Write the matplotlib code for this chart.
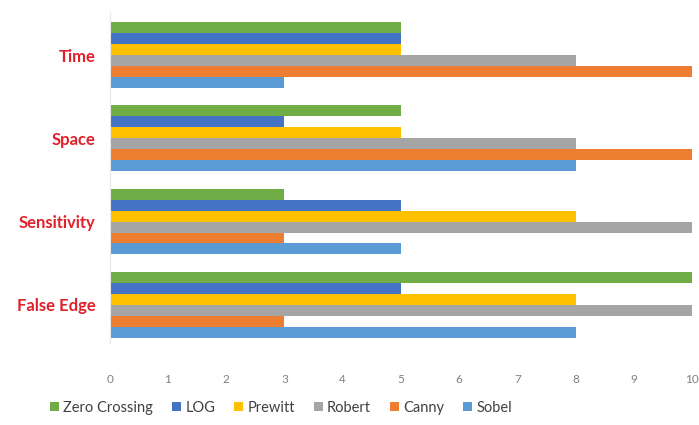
import numpy as np
import matplotlib
matplotlib.use("Agg")
import matplotlib.pyplot as plt

# categories bottom -> top
categories = ["False Edge", "Sensitivity", "Space", "Time"]

# series values per category (same order as categories)
sobel = [8, 5, 8, 3]
canny = [3, 3, 10, 10]
robert = [10, 10, 8, 8]
prewitt = [8, 8, 5, 5]
log = [5, 5, 3, 5]
zero_crossing = [10, 3, 5, 5]

series_names = ["Sobel", "Canny", "Robert", "Prewitt", "LOG", "Zero Crossing"]
series_vals = [sobel, canny, robert, prewitt, log, zero_crossing]
colors = ["#5B9BD5", "#ED7D31", "#A5A5A5", "#FFC000", "#4472C4", "#70AD47"]

plt.rcParams["font.family"] = ["Lato", "DejaVu Sans"]

fig = plt.figure(figsize=(6.99, 4.25), dpi=100)
ax = fig.add_axes([0.157, 0.193, 0.833, 0.779])

y = np.arange(len(categories))
bh = 0.132
handles = []
for i, (name, vals, c) in enumerate(zip(series_names, series_vals, colors)):
    off = (i - 2.5) * bh
    b = ax.barh(y + off, vals, height=bh, color=c, label=name)
    handles.append(b)

ax.set_xlim(0, 10)
ax.set_ylim(-0.46, 3.52)
ax.set_xticks(range(0, 11))
ax.set_yticks(y)
ax.set_yticklabels(categories, color="#E0202A", fontweight="bold", fontsize=12)
ax.tick_params(axis="x", length=0, pad=22, labelsize=8.5, labelcolor="#808080")
ax.tick_params(axis="y", length=0, pad=10)
for s in ["top", "right", "bottom"]:
    ax.spines[s].set_visible(False)
ax.spines["left"].set_color("#E8E8E8")

# legend order as in picture: Zero Crossing ... Sobel
leg = fig.legend(handles[::-1], series_names[::-1], loc="center",
                 bbox_to_anchor=(0.402, 0.04), ncol=6, frameon=False,
                 fontsize=10.5, handlelength=0.6, handleheight=0.6,
                 handletextpad=0.3, columnspacing=1.3)
for t in leg.get_texts():
    t.set_color("#404040")

fig.savefig("out.png", dpi=100)
